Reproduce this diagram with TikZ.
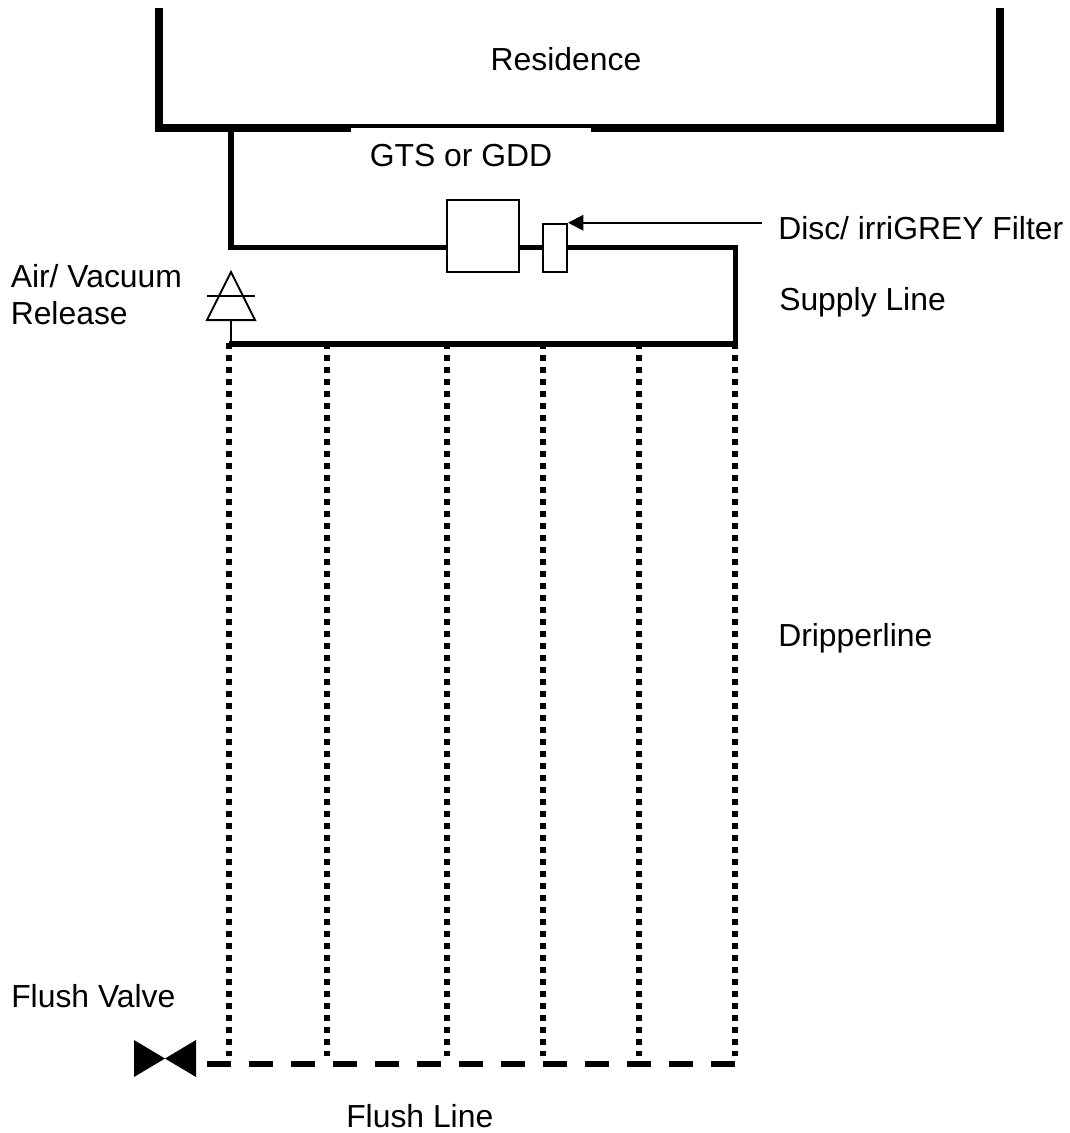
\documentclass[tikz,border=0pt]{standalone}
\usepackage{fontspec}
\setmainfont{Liberation Sans}
\usetikzlibrary{arrows.meta,positioning,calc}
\tikzset{
  wall/.style={line width=6pt,line join=miter},
  pipe/.style={line width=4.4pt,line join=miter},
  drip/.style={line width=4.5pt,dash pattern=on 4.5pt off 4.5pt},
  flush/.style={line width=4.5pt,dash pattern=on 18pt off 13.5pt},
  thin box/.style={draw,line width=1.5pt,fill=white,inner sep=0pt},
  thin line/.style={line width=1.5pt,line join=miter},
  lbl/.style={font=\fontsize{23.9}{27.6}\selectfont,inner sep=0pt,align=left},
  leader/.style={line width=1.5pt,-{Triangle[length=11.5pt,width=11.5pt]}},
}
\begin{document}
\begin{tikzpicture}[x=0.75pt,y=-0.75pt]
  \useasboundingbox (0,0) rectangle (1070,1133);
  \draw[wall] (159,8) -- (159,128) -- (1000,128) -- (1000,8);
  \node[lbl,anchor=base] (residence) at (566,70.5){Residence};
  \node[fill=white,inner sep=0pt,minimum width=180pt,minimum height=40pt] (gap) at (471,154.5){};
  \node[lbl,anchor=base west] (gts) at (369.5,166){GTS or GDD};

  \node[thin box,minimum width=54pt,minimum height=54.4pt] (unit) at (483,236){};
  \node[thin box,minimum width=18pt,minimum height=36.4pt] (filter) at (555,248){};
  \coordinate (house) at (231,128);
  \coordinate (bend) at (231,247.5);
  \coordinate (corner) at (735.5,247.5);
  \coordinate (head) at (735.5,344);
  \coordinate (start) at (229,344);
  \draw[pipe] (house) -- (bend) -- (unit.west |- bend);
  \draw[pipe] (unit.east |- bend) -- (filter.west |- bend);
  \draw[pipe] (filter.east |- bend) -- (corner) -- (head) -- (start);

  \node[lbl,anchor=base west] (disc) at (778,239.3){Disc/ irriGREY Filter};
  \coordinate (tag) at ($(filter.north east)+(194,0)$);
  \draw[leader] (tag) -- (filter.north east);
  \node[lbl,anchor=base west] (supply) at (779,310.7){Supply Line};
  \node[lbl,anchor=base west] (dripper) at (778,646.7){Dripperline};
  \node[lbl,anchor=base west] (air) at (10.5,324){Air/ Vacuum\\Release};

  \coordinate (apex) at (231,272);
  \draw[thin line] (apex) -- (255,320) -- (207,320) -- cycle;
  \draw[thin line] (207,296) -- (255,296);
  \draw[thin line] (231,320) -- (231,344);

  \foreach \i/\x in {0/229,1/327,2/447,3/543,4/639,5/735}{
    \coordinate (top\i) at (\x,342.5);
    \coordinate (bot\i) at (\x,1056);
    \draw[drip] (top\i) -- (bot\i);
  }

  \coordinate (fl) at (207,1064);
  \coordinate (fr) at (736,1064);
  \draw[flush] (fl) -- (fr);
  \fill (134,1040) -- (196,1077) -- (196,1040) -- (134,1077) -- cycle;
  \node[lbl,anchor=base west] (valve) at (11,1007){Flush Valve};
  \node[lbl,anchor=base west] (line) at (346,1127.5){Flush Line};
\end{tikzpicture}
\end{document}
